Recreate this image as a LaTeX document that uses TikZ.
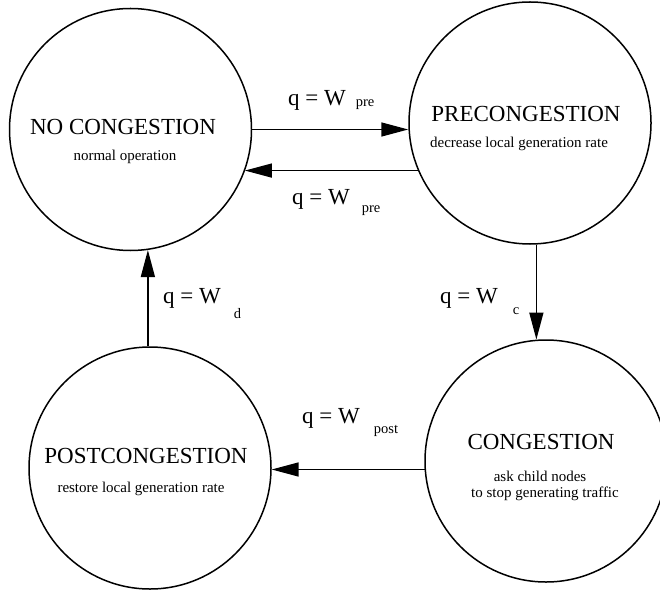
\documentclass[tikz,border=0pt]{standalone}
\usepackage{fontspec}
\setmainfont{Liberation Serif}
\usetikzlibrary{arrows.meta}

\newcommand{\bigsz}{\fontsize{23}{27}\selectfont}
\newcommand{\smallsz}{\fontsize{15}{16}\selectfont}
\newcommand{\subsz}{\fontsize{14.5}{16}\selectfont}

\tikzset{
  statecircle/.style={draw, circle, line width=1.5pt, minimum size=242pt, inner sep=0pt},
  statetitle/.style={inner sep=0pt, anchor=base, font=\bigsz},
  statenote/.style={inner sep=0pt, anchor=base, font=\smallsz, align=center},
  cond/.style={inner sep=0pt, anchor=base west, font=\bigsz},
  trans/.style={line width=1.5pt, -{Triangle[length=27pt,width=14pt]}}
}

\begin{document}
\begin{tikzpicture}[x=1pt,y=1pt]
\useasboundingbox (0,0) rectangle (660,590);

% states
\node[statecircle] (nc)   at (130.5,460.5) {};
\node[statecircle] (pre)  at (530,467) {};
\node[statecircle] (cong) at (546,129) {};
\node[statecircle] (post) at (150,122) {};

% state texts
\node[statetitle] (ncT) at (123,455) {NO CONGESTION};
\node[statenote]  (ncN) at (125,429) {normal operation};

\node[statetitle] (preT) at (526,468) {PRECONGESTION};
\node[statenote]  (preN) at (519,442) {decrease local generation rate};

\node[statetitle] (congT) at (541,141) {CONGESTION};
\node[statenote]  (congN1) at (540,109) {ask child nodes};
\node[statenote]  (congN2) at (545,93) {to stop generating traffic};

\node[statetitle] (postT) at (146,127) {POSTCONGESTION};
\node[statenote]  (postN) at (141,98) {restore local generation rate};

% transitions (kept exactly horizontal / vertical)
\draw[trans] (nc.0.9) -- (nc.0.9 -| pre.west);
\draw[trans] (pre.203.4) -- (pre.203.4 -| nc.340.2);
\draw[trans] (pre.273.8) -- (pre.273.8 |- cong.94.3);
\draw[trans] (cong.184.7) -- (cong.184.7 -| post.358.6);
\draw[trans] (post.91.4) -- (post.91.4 |- nc.278.1);

% transition conditions
\node[cond] (cA) at (288,484) {q = W\hspace{10pt}\raisebox{-1pt}{\subsz pre}};
\node[cond] (cB) at (292,386) {q = W\hspace{12pt}\raisebox{-8pt}{\subsz pre}};
\node[cond] (cC) at (440,287) {q = W\hspace{15pt}\raisebox{-11pt}{\subsz c}};
\node[cond] (cD) at (163,287) {q = W\hspace{13pt}\raisebox{-15pt}{\subsz d}};
\node[cond] (cE) at (302,167) {q = W\hspace{14pt}\raisebox{-10pt}{\subsz post}};
\end{tikzpicture}
\end{document}
